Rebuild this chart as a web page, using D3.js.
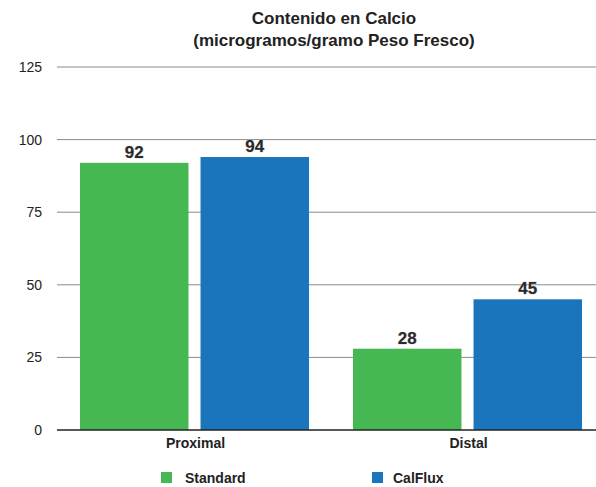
<!DOCTYPE html>
<html><head><meta charset="utf-8">
<script src="https://cdn.jsdelivr.net/npm/d3@7"></script>
<style>body{margin:0;background:#fff;} text{font-family:"Liberation Sans",Arial,Helvetica,sans-serif;}</style>
</head><body>
<svg id="c" width="596" height="487"></svg>
<script>
const categories = ["Proximal", "Distal"];
const seriesNames = ["Standard", "CalFlux"];
const standardValues = [92, 28];
const calfluxValues = [94, 45];
const yTicks = [0, 25, 50, 75, 100, 125];
const colors = ["#45b753", "#1a75bc"];
const titleLines = ["Contenido en Calcio", "(microgramos/gramo Peso Fresco)"];

const svg = d3.select("#c");
const plotLeft = 57, plotRight = 603, plotTop = 67, plotBottom = 430;
const x0 = d3.scaleBand().domain(categories).range([plotLeft, plotRight]).paddingInner(0).paddingOuter(0);
const x1 = d3.scaleBand().domain(seriesNames).range([23, x0.bandwidth() - 21]).paddingInner(0.1);
const y = d3.scaleLinear().domain([0, 125]).range([plotBottom, plotTop]);

// grid
svg.append("g").selectAll("line").data(yTicks.filter(d => d > 0)).join("line")
  .attr("x1", plotLeft).attr("x2", 596).attr("y1", d => y(d)).attr("y2", d => y(d))
  .attr("stroke", "#8a8a8a").attr("stroke-width", 1);

// y labels
svg.append("g").selectAll("text").data(yTicks).join("text")
  .attr("x", 42).attr("y", d => y(d) + 5).attr("text-anchor", "end")
  .attr("font-size", 14).attr("fill", "#222").text(d => d);

const data = categories.map((c, i) => ({cat: c, vals: [standardValues[i], calfluxValues[i]]}));
const g = svg.append("g").selectAll("g").data(data).join("g")
  .attr("transform", d => `translate(${x0(d.cat)},0)`);
g.selectAll("rect").data(d => d.vals.map((v, j) => ({s: seriesNames[j], v, j}))).join("rect")
  .attr("x", d => x1(d.s)).attr("width", x1.bandwidth())
  .attr("y", d => y(d.v)).attr("height", d => y(0) - y(d.v))
  .attr("fill", d => colors[d.j]);
g.selectAll("text").data(d => d.vals.map((v, j) => ({s: seriesNames[j], v, j}))).join("text")
  .attr("x", d => x1(d.s) + x1.bandwidth() / 2).attr("y", d => y(d.v) - 5)
  .attr("text-anchor", "middle").attr("font-size", 17).attr("font-weight", "bold")
  .attr("fill", "#2a2a2a").attr("stroke", "#bbb").attr("stroke-width", 0.6).attr("paint-order", "stroke")
  .text(d => d.v);

// baseline
svg.append("line").attr("x1", plotLeft).attr("x2", 596).attr("y1", y(0)).attr("y2", y(0))
  .attr("stroke", "#222").attr("stroke-width", 1.5);

// category labels
svg.append("g").selectAll("text").data(categories).join("text")
  .attr("x", d => x0(d) + x0.bandwidth() / 2 + 2).attr("y", 448)
  .attr("text-anchor", "middle").attr("font-size", 14).attr("font-weight", "bold").attr("fill", "#222")
  .text(d => d);

// title
svg.append("g").selectAll("text").data(titleLines).join("text")
  .attr("x", 334).attr("y", (d, i) => 24 + i * 22).attr("text-anchor", "middle")
  .attr("font-size", 17).attr("font-weight", "bold").attr("fill", "#222").text(d => d);

// legend
const legX = [161, 372];
const lg = svg.append("g").selectAll("g").data(seriesNames).join("g")
  .attr("transform", (d, i) => `translate(${legX[i]},472)`);
lg.append("rect").attr("width", 11).attr("height", 11).attr("fill", (d, i) => colors[i]);
lg.append("text").attr("x", (d, i) => i === 0 ? 24 : 21).attr("y", 10.5).attr("font-size", 14)
  .attr("font-weight", "bold").attr("fill", "#222").text(d => d);
</script>
</body></html>
